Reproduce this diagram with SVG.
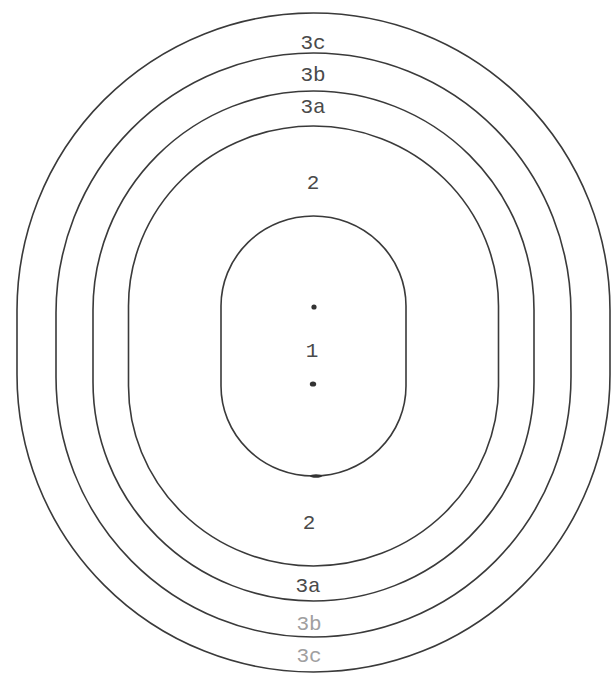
<svg xmlns="http://www.w3.org/2000/svg" width="616" height="675" viewBox="0 0 616 675">
  <style>
    .ring { fill: none; stroke: #3a3a3a; stroke-width: 1.6; }
    .lbl { font-family: "Liberation Mono", "Courier New", monospace; font-size: 21px; fill: #4a4a4a; text-anchor: middle; }
    .faint { fill: #a0a0a0; }
    .dot { fill: #333; }
  </style>
  <rect width="616" height="675" fill="#ffffff"/>
  <g id="zone-3c">
    <path class="ring" d="M17,310.5 A296.5,297.5 0 0 1 610,310.5 L610,374.5 A296.5,297.5 0 0 1 17,374.5 Z"/>
    <text class="lbl" x="313" y="49">3c</text>
    <text class="lbl faint" x="309" y="662">3c</text>
  </g>
  <g id="zone-3b">
    <path class="ring" d="M56,313 A257.5,260 0 0 1 571,313 L571,377 A257.5,260 0 0 1 56,377 Z"/>
    <text class="lbl" x="313" y="81">3b</text>
    <text class="lbl faint" x="309" y="630">3b</text>
  </g>
  <g id="zone-3a">
    <path class="ring" d="M93,310 A220.5,219 0 0 1 534,310 L534,382 A220.5,219 0 0 1 93,382 Z"/>
    <text class="lbl" x="313" y="113">3a</text>
    <text class="lbl" x="308" y="592" fill="#6a6a6a">3a</text>
  </g>
  <g id="zone-2">
    <path class="ring" d="M128.5,306 A185,180 0 0 1 498.5,306 L498.5,386 A185,180 0 0 1 128.5,386 Z"/>
    <text class="lbl" x="313" y="189">2</text>
    <text class="lbl" x="309" y="529">2</text>
  </g>
  <g id="zone-1">
    <path class="ring" d="M221,306 A92.5,90 0 0 1 406,306 L406,386 A92.5,90 0 0 1 221,386 Z"/>
    <ellipse class="dot" cx="316" cy="476" rx="6" ry="1.8"/>
    <circle class="dot" cx="314" cy="307" r="2.6"/>
    <ellipse class="dot" cx="313" cy="384" rx="3.2" ry="2.6"/>
    <text class="lbl" x="312" y="357">1</text>
  </g>
  <g id="connectors"/>
</svg>
